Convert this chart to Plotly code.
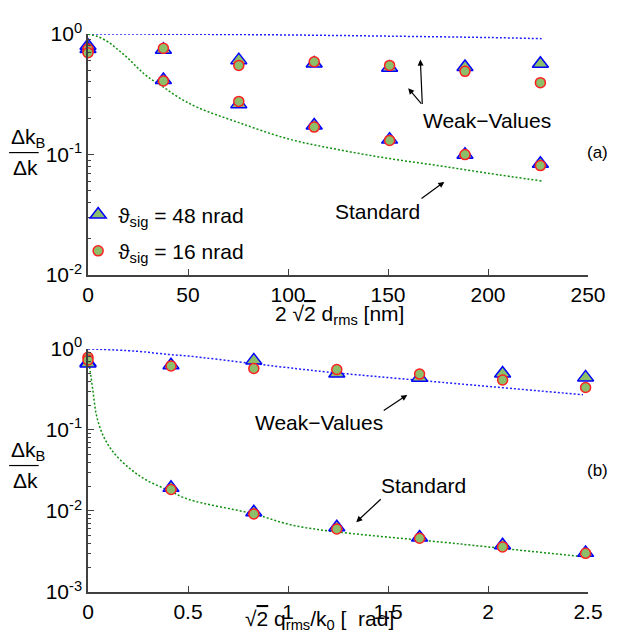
import plotly.graph_objects as go

# ---------------- data : panel (a) ----------------
xa = [0, 37.7, 75.4, 113.1, 150.8, 188.5, 226.2]
a_tri_weak = [0.80, 0.74, 0.607, 0.57, 0.525, 0.532, 0.566]
a_circ_weak = [0.75, 0.76, 0.549, 0.588, 0.549, 0.49, 0.395]
a_tri_std = [0.75, 0.416, 0.262, 0.174, 0.133, 0.0996, 0.084]
a_circ_std = [0.70, 0.408, 0.276, 0.169, 0.131, 0.100, 0.081]

a_wv_x = [0, 50, 100, 150, 200, 226.8]
a_wv_y = [1.0, 0.995, 0.982, 0.96, 0.935, 0.915]
a_std_x = [0, 5, 10, 15, 20, 25, 30, 37, 45, 55, 75, 100, 125, 150, 175, 200, 226.8]
a_std_y = [1.0, 0.95, 0.86, 0.74, 0.63, 0.52, 0.44, 0.37, 0.30, 0.245, 0.185, 0.135, 0.11, 0.093, 0.081, 0.07, 0.0604]

# ---------------- data : panel (b) ----------------
xb = [0, 0.415, 0.829, 1.244, 1.658, 2.073, 2.488]
b_tri_weak = [0.68, 0.628, 0.722, 0.498, 0.442, 0.498, 0.445]
b_circ_weak = [0.79, 0.617, 0.573, 0.557, 0.489, 0.413, 0.334]
b_tri_std = [0.66, 0.0193, 0.00963, 0.0063, 0.0047, 0.00377, 0.00304]
b_circ_std = [0.73, 0.0184, 0.0092, 0.0060, 0.0046, 0.0036, 0.0030]

b_wv_x = [0, 0.24, 0.404, 0.503, 0.823, 1.045, 1.193, 1.703, 2.475]
b_wv_y = [1.0, 0.938, 0.853, 0.816, 0.66, 0.57, 0.52, 0.40, 0.272]
b_std_x = [0, 0.01, 0.026, 0.043, 0.076, 0.125, 0.207, 0.289, 0.404, 0.503, 0.828, 1.045, 1.867, 2.475]
b_std_y = [0.75, 0.546, 0.285, 0.149, 0.085, 0.0537, 0.0337, 0.0243, 0.0179, 0.0139, 0.0092, 0.0065, 0.0039, 0.00273]

# ---------------- ticks ----------------
a_xticks = [0, 50, 100, 150, 200, 250]
b_xticks = [0, 0.5, 1, 1.5, 2, 2.5]
b_xticktext = ["0", "0.5", "1", "1.5", "2", "2.5"]
a_yticks = [1, 0.1, 0.01]
a_yticktext = ["10<sup>0</sup>", "10<sup>-1</sup>", "10<sup>-2</sup>"]
b_yticks = [1, 0.1, 0.01, 0.001]
b_yticktext = ["10<sup>0</sup>", "10<sup>-1</sup>", "10<sup>-2</sup>", "10<sup>-3</sup>"]

legend_48 = "\u03d1<sub>sig</sub> = 48 nrad"
legend_16 = "\u03d1<sub>sig</sub> = 16 nrad"

FONT = "Liberation Sans, Arial, sans-serif"
FS = 21
GREEN_FILL = "#8dbf6a"
BLUE = "#0000ff"
RED = "#ff2020"
AXC = "#404040"

# the page body adds an 8px offset; figure is laid out so the visible
# area lines up with the reference picture
W, H = 610, 633
ML, MR, MT, MB = 80, 23, 17, 49
PW, PH = W - ML - MR, H - MT - MB


def px(xr):  # reference-picture x -> paper
    return (xr - 8 - ML) / PW


def py(yr):  # reference-picture y -> paper
    return (H - MB - (yr - 8)) / PH


fig = go.Figure()

tri = dict(symbol="triangle-up", size=14, color=GREEN_FILL, line=dict(color=BLUE, width=1.5))
circ = dict(symbol="circle", size=10, color=GREEN_FILL, line=dict(color=RED, width=1.5))
dash = "2px,2px"

# curves
fig.add_trace(go.Scatter(x=a_wv_x, y=a_wv_y, mode="lines", line=dict(color="#2020ff", width=1.5, dash=dash, shape="spline"),
                         showlegend=False, xaxis="x", yaxis="y"))
fig.add_trace(go.Scatter(x=a_std_x, y=a_std_y, mode="lines", line=dict(color="#109010", width=1.5, dash=dash, shape="spline"),
                         showlegend=False, xaxis="x", yaxis="y"))
fig.add_trace(go.Scatter(x=b_wv_x, y=b_wv_y, mode="lines", line=dict(color="#2020ff", width=1.5, dash=dash, shape="spline"),
                         showlegend=False, xaxis="x2", yaxis="y2"))
fig.add_trace(go.Scatter(x=b_std_x, y=b_std_y, mode="lines", line=dict(color="#109010", width=1.5, dash=dash, shape="spline"),
                         showlegend=False, xaxis="x2", yaxis="y2"))

# markers panel (a)
fig.add_trace(go.Scatter(x=xa + xa, y=a_tri_weak + a_tri_std, mode="markers", marker=tri, name=legend_48,
                         legendgroup="g48", cliponaxis=False, xaxis="x", yaxis="y"))
fig.add_trace(go.Scatter(x=xa + xa, y=a_circ_weak + a_circ_std, mode="markers", marker=circ, name=legend_16,
                         legendgroup="g16", cliponaxis=False, xaxis="x", yaxis="y"))
# markers panel (b)
fig.add_trace(go.Scatter(x=xb + xb, y=b_tri_weak + b_tri_std, mode="markers", marker=tri, showlegend=False,
                         cliponaxis=False, xaxis="x2", yaxis="y2"))
fig.add_trace(go.Scatter(x=xb + xb, y=b_circ_weak + b_circ_std, mode="markers", marker=circ, showlegend=False,
                         cliponaxis=False, xaxis="x2", yaxis="y2"))

minor_a = [m * 10 ** e for e in (-2, -1) for m in range(2, 10)]
minor_b = [m * 10 ** e for e in (-3, -2, -1) for m in range(2, 10)]

common_x = dict(showline=True, linecolor=AXC, linewidth=1.5, ticks="inside", ticklen=6, tickcolor=AXC,
                tickwidth=1, showgrid=False, zeroline=False, mirror=False,
                tickfont=dict(family=FONT, size=FS, color="black"))
common_y = dict(type="log", showline=True, linecolor=AXC, linewidth=1.5, ticks="inside", ticklen=6, tickcolor=AXC,
                tickwidth=1, showgrid=False, zeroline=False, mirror=False,
                tickfont=dict(family=FONT, size=FS, color="black"))

fig.update_layout(
    width=W, height=H,
    margin=dict(l=ML, r=MR, t=MT, b=MB),
    paper_bgcolor="white", plot_bgcolor="white",
    font=dict(family=FONT, size=FS, color="black"),
    xaxis=dict(domain=[0, 1], range=[0, 250], tickvals=a_xticks, anchor="y", **common_x),
    yaxis=dict(domain=[py(270), 1], range=[-2, 0], tickvals=a_yticks, ticktext=a_yticktext, anchor="x",
               minor=dict(ticks="inside", ticklen=3, tickcolor=AXC, tickvals=minor_a, showgrid=False), **common_y),
    xaxis2=dict(domain=[0, 1], range=[0, 2.5], tickvals=b_xticks, ticktext=b_xticktext, anchor="y2", **common_x),
    yaxis2=dict(domain=[0, py(345)], range=[-3, 0], tickvals=b_yticks, ticktext=b_yticktext, anchor="x2",
                minor=dict(ticks="inside", ticklen=3, tickcolor=AXC, tickvals=minor_b, showgrid=False), **common_y),
    legend=dict(x=px(78), y=py(188), xanchor="left", yanchor="top", bgcolor="rgba(0,0,0,0)",
                font=dict(family=FONT, size=FS), itemwidth=30, tracegroupgap=6),
    showlegend=True,
)

ann = []


def text(xr, yr, t, size=FS, xanchor="center", yanchor="middle"):
    ann.append(dict(x=px(xr), y=py(yr), xref="paper", yref="paper", text=t, showarrow=False,
                    xanchor=xanchor, yanchor=yanchor, font=dict(family=FONT, size=size, color="black")))


def arrow(tx, ty, hx, hy):
    ann.append(dict(x=px(hx), y=py(hy), xref="paper", yref="paper", text="", showarrow=True,
                    ax=tx - hx, ay=ty - hy, axref="pixel", ayref="pixel",
                    arrowhead=2, arrowsize=1, arrowwidth=1.2, arrowcolor="black", standoff=0, startstandoff=0))


# panel (a)
text(493, 113, "Weak\u2212Values")
arrow(427, 97, 425, 51)
arrow(427, 97, 412.7, 80)
text(381.7, 205.5, "Standard")
arrow(425, 193, 449.3, 175.3)
text(605, 145.7, "(a)", size=17)
# panel (b)
text(322, 420, "Weak\u2212Values")
arrow(386.7, 408.3, 411.7, 391.7)
text(428.3, 483.3, "Standard")
arrow(386, 496.7, 360, 521)
text(605, 468.3, "(b)", size=17)

# y-axis fraction labels
text(8, 146, "\u0394k<sub>B</sub>", xanchor="left", yanchor="bottom")
text(10, 147, "\u0394k", xanchor="left", yanchor="top")
text(8, 464, "\u0394k<sub>B</sub>", xanchor="left", yanchor="bottom")
text(10, 465, "\u0394k", xanchor="left", yanchor="top")

# x-axis titles
text(343, 311, "2 \u221a<span style='text-decoration:overline'>2</span> d<sub>rms</sub> [nm]")
text(323, 620.5, "\u221a<span style='text-decoration:overline'>2</span> q<sub>rms</sub>/k<sub>0</sub> [  rad]")

fig.update_layout(annotations=ann)

fig.update_layout(shapes=[
    dict(type="line", xref="paper", yref="paper", x0=px(8), x1=px(38), y0=py(145.5), y1=py(145.5),
         line=dict(color="black", width=1.2)),
    dict(type="line", xref="paper", yref="paper", x0=px(8), x1=px(38), y0=py(463.5), y1=py(463.5),
         line=dict(color="black", width=1.2)),
])

fig.write_html("out.html")
